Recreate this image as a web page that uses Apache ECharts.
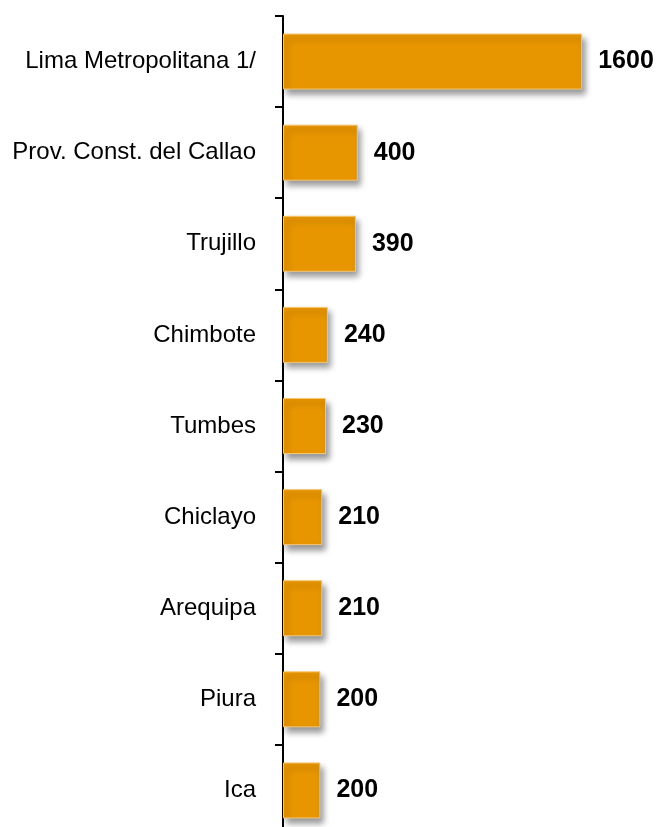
<!DOCTYPE html>
<html><head><meta charset="utf-8">
<script src="https://cdn.jsdelivr.net/npm/echarts@6/dist/echarts.min.js"></script>
<style>html,body{margin:0;padding:0;background:#fff;overflow:hidden}#c{width:657px;height:850px}</style>
</head><body><div id="c"></div>
<script>
const categories = ["Lima Metropolitana 1/", "Prov. Const. del Callao", "Trujillo", "Chimbote", "Tumbes", "Chiclayo", "Arequipa", "Piura", "Ica"];
const values = [1600, 400, 390, 240, 230, 210, 210, 200, 200];

const chart = echarts.init(document.getElementById('c'), null, {renderer: 'canvas'});
chart.setOption({
  animation: false,
  backgroundColor: '#ffffff',
  grid: {left: 283, top: 16, width: 374, height: 820, containLabel: false},
  xAxis: {type: 'value', min: 0, max: 2000, show: false},
  yAxis: {
    type: 'category', data: categories, inverse: true,
    axisLine: {show: true, lineStyle: {color: '#000', width: 2}},
    axisTick: {show: true, length: 8, alignWithLabel: false, lineStyle: {color: '#000', width: 2}},
    axisLabel: {margin: 27, color: '#000', fontSize: 24, fontFamily: 'Liberation Sans, Arial, sans-serif'}
  },
  series: [{
    type: 'bar', data: values, barWidth: 56,
    itemStyle: {color: '#E89600', borderColor: '#F6C670', borderWidth: 1,
      shadowColor: 'rgba(0,0,0,0.4)', shadowBlur: 6, shadowOffsetX: 3, shadowOffsetY: 5},
    label: {show: true, position: 'right', distance: 16, color: '#000', fontWeight: 'bold',
      fontSize: 25, fontFamily: 'Liberation Sans, Arial, sans-serif'}
  }]
});
</script></body></html>
